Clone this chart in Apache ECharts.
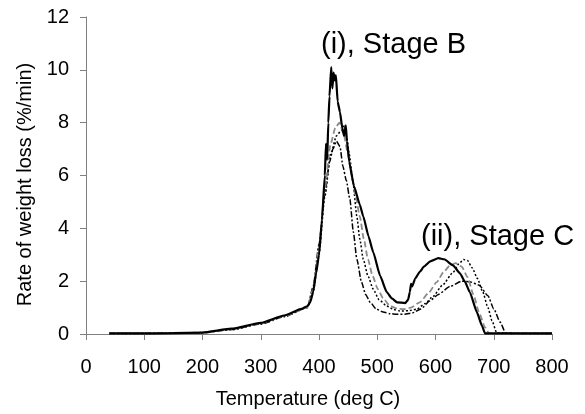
<!DOCTYPE html>
<html>
<head>
<meta charset="utf-8">
<script src="https://cdn.jsdelivr.net/npm/echarts@6/dist/echarts.min.js"></script>
<style>
html,body{margin:0;padding:0;background:#fff;}
#c{width:585px;height:414px;}
</style>
</head>
<body>
<div id="c"></div>
<script>
// X tick labels and axis settings
const xTicks = [0, 100, 200, 300, 400, 500, 600, 700, 800];
const yTicks = [0, 2, 4, 6, 8, 10, 12];
const xTitle = 'Temperature (deg C)';
const yTitle = 'Rate of weight loss (%/min)';
const labelB = '(i), Stage B';
const labelC = '(ii), Stage C';

// Series 1: solid black
const solidT = [40,100,150,200,250,300,340,370,380,385,390,395,400,405,410,412,414,416,418,421,423,425,427,429,432,436,440,443,446,448,452,460,470,476,485,493,505,516,525,534,548,553,556,558,560,565,573,580,591,605,615,630,642,650,659,671,680,685,700,750,800];
const solidV = [0.02,0.02,0.03,0.05,0.2,0.42,0.7,0.95,1.05,1.2,1.6,2.3,3.0,4.3,6.0,7.2,6.6,8.0,9.0,10.1,9.3,9.9,9.6,9.8,8.8,8.4,7.8,7.5,7.9,7.3,6.5,5.6,4.9,4.45,3.7,3.1,2.2,1.6,1.35,1.2,1.17,1.3,1.6,1.9,1.8,2.1,2.35,2.55,2.75,2.87,2.83,2.6,2.3,2.0,1.58,0.83,0.3,0.02,0.02,0.02,0.02];

// Series 2: grey dashed
const greyT = [40,100,200,250,300,340,380,390,400,410,420,428,435,442,450,456,463,470,477,484,492,501,510,522,535,545,558,573,588,602,614,625,635,645,655,665,675,685,692,750,800];
const greyV = [0.02,0.02,0.05,0.18,0.4,0.68,1.0,1.7,3.2,5.5,7.2,7.8,8.0,7.6,6.8,6.0,5.2,4.45,3.6,2.83,2.2,1.7,1.35,1.06,0.96,0.94,1.0,1.2,1.55,1.96,2.35,2.6,2.68,2.55,2.15,1.5,0.8,0.25,0.02,0.02,0.02];

// Series 3: black dotted
const dotT = [40,100,200,250,300,340,380,390,400,410,420,430,438,444,448,452,458,465,470,476,484,493,503,516,528,539,553,568,582,596,612,630,640,648,655,663,672,681,690,697,705,750,800];
const dotV = [0.02,0.02,0.05,0.17,0.38,0.66,1.0,1.6,3.0,5.2,6.8,7.5,7.7,7.9,7.4,6.8,5.8,4.45,3.6,2.83,2.2,1.7,1.3,1.06,0.93,0.87,0.88,0.94,1.15,1.43,1.85,2.33,2.65,2.82,2.78,2.5,2.1,1.6,1.0,0.5,0.05,0.02,0.02];

// Series 4: black dash-dot
const ddT = [40,100,200,250,300,340,380,390,400,410,418,424,430,436,441,447,453,459,465,473,480,488,498,510,522,533,547,561,575,590,605,625,645,660,675,690,700,711,720,730,800];
const ddV = [0.02,0.02,0.05,0.17,0.38,0.66,1.0,1.8,3.4,5.3,6.5,7.0,7.3,7.1,6.35,5.8,5.1,3.85,2.83,1.96,1.5,1.2,0.95,0.83,0.77,0.75,0.75,0.8,0.95,1.25,1.5,1.8,2.0,1.97,1.85,1.45,0.95,0.45,0.05,0.02,0.02];

const zip = (a, b) => a.map((t, i) => [t, b[i]]);
const FONT = "'Liberation Sans', Arial, sans-serif";

const chart = echarts.init(document.getElementById('c'), null, {renderer: 'canvas'});
const axisCommon = {
  axisLine: {show: true, lineStyle: {color: '#808080', width: 1}},
  axisTick: {show: true, inside: false, length: 6, lineStyle: {color: '#808080'}},
  splitLine: {show: false},
};
chart.setOption({
  animation: false,
  backgroundColor: '#ffffff',
  grid: {left: 86, right: 33, top: 17, bottom: 79, containLabel: false},
  xAxis: Object.assign({
    type: 'value', min: xTicks[0], max: xTicks[xTicks.length - 1], interval: xTicks[1] - xTicks[0],
    name: xTitle, nameLocation: 'middle', nameGap: 55,
    nameTextStyle: {fontFamily: FONT, fontSize: 20, color: '#000', padding: [0, 22, 0, 0]},
    axisLabel: {fontFamily: FONT, fontSize: 20, color: '#000', margin: 23},
  }, axisCommon),
  yAxis: Object.assign({
    type: 'value', min: yTicks[0], max: yTicks[yTicks.length - 1], interval: yTicks[1] - yTicks[0],
    name: yTitle, nameLocation: 'middle', nameGap: 50, nameRotate: 90,
    nameTextStyle: {fontFamily: FONT, fontSize: 20, color: '#000', padding: [0, 18, 0, 0]},
    axisLabel: {fontFamily: FONT, fontSize: 20, color: '#000', margin: 17},
  }, axisCommon),
  graphic: [
    {type: 'text', x: 321, y: 45, style: {text: labelB, font: '29px ' + FONT, fill: '#000', align: 'left', verticalAlign: 'middle'}},
    {type: 'text', x: 421, y: 237, style: {text: labelC, font: '29px ' + FONT, fill: '#000', align: 'left', verticalAlign: 'middle'}},
  ],
  series: [
    {type: 'line', data: zip(ddT, ddV), showSymbol: false, smooth: 0.2, smoothMonotone: 'x',
     lineStyle: {color: '#000', width: 1.5, type: [6, 2, 2, 2]}},
    {type: 'line', data: zip(dotT, dotV), showSymbol: false, smooth: 0.2, smoothMonotone: 'x',
     lineStyle: {color: '#000', width: 1.5, type: [2, 2]}},
    {type: 'line', data: zip(greyT, greyV), showSymbol: false, smooth: 0.2, smoothMonotone: 'x',
     lineStyle: {color: '#8a8a8a', width: 1.8, type: [6, 3]}},
    {type: 'line', data: zip(solidT, solidV), showSymbol: false, smooth: 0.15, smoothMonotone: 'x',
     lineStyle: {color: '#000', width: 2.2, type: 'solid'}},
  ],
});
</script>
</body>
</html>
